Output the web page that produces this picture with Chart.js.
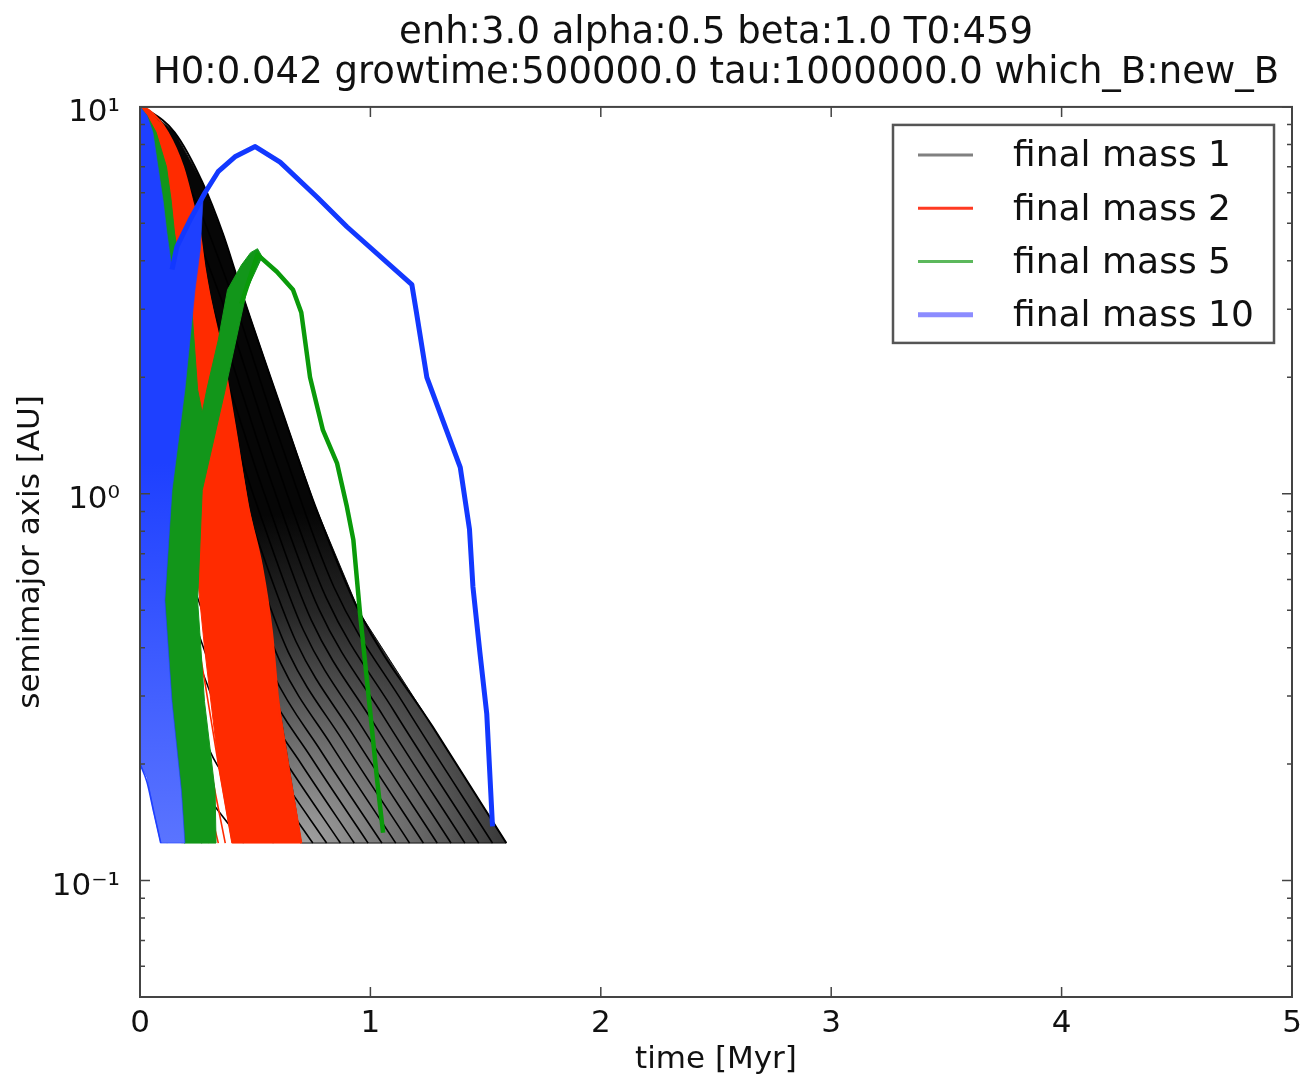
<!DOCTYPE html>
<html lang="en">
<head>
<meta charset="UTF-8">
<title>semimajor axis vs time</title>
<script src="https://cdn.jsdelivr.net/npm/chart.js"></script>
<style>
  html,body{margin:0;padding:0;background:#fff}
  canvas{display:block}
</style>
</head>
<body>
<canvas id="chart" width="1308" height="1079"></canvas>
<script>
// axes
const xTicks = [0, 1, 2, 3, 4, 5];
const yMajorTicks = [0.1, 1, 10];
const yTickLabels = ['10⁻¹', '10⁰', '10¹'];
const yMinorTicks = [0.06, 0.07, 0.08, 0.09, 0.2, 0.3, 0.4, 0.5, 0.6, 0.7, 0.8, 0.9, 2, 3, 4, 5, 6, 7, 8, 9];

const legendLabels = ['final mass 1', 'final mass 2', 'final mass 5', 'final mass 10'];

// tracks: [time Myr, a AU]
const blackOuter = [[0,10],[.035,9.8],[.15,8.6],[.27,6.4],[.36,4.7],[.45,3.2],[.61,1.68],[.76,.93],[.955,.49],[1.27,.25],[1.59,.125]];
const blackInner = [
  [[0,8.4],[.184,6.67],[.383,3.47],[.612,1.35],[.842,.573],[1.148,.284],[1.53,.125]],
  [[0,7.0],[.176,5.62],[.368,3.01],[.588,1.22],[.809,.537],[1.103,.274],[1.47,.125]],
  [[0,5.9],[.169,4.75],[.353,2.62],[.564,1.10],[.776,.504],[1.058,.265],[1.41,.125]],
  [[0,4.9],[.162,4.02],[.338,2.28],[.54,1.0],[.743,.472],[1.013,.256],[1.35,.125]],
  [[0,4.1],[.155,3.40],[.323,1.97],[.516,.904],[.71,.443],[.968,.247],[1.29,.125]],
  [[0,3.44],[.148,2.87],[.308,1.72],[.492,.817],[.677,.415],[.923,.239],[1.23,.125]],
  [[0,2.88],[.14,2.43],[.293,1.49],[.468,.738],[.644,.389],[.878,.231],[1.17,.125]],
  [[0,2.41],[.133,2.05],[.278,1.29],[.444,.667],[.611,.365],[.833,.223],[1.11,.125]],
  [[0,2.02],[.126,1.73],[.263,1.12],[.42,.604],[.578,.342],[.788,.215],[1.05,.125]],
  [[0,1.69],[.119,1.47],[.248,.98],[.396,.546],[.545,.321],[.743,.208],[.99,.125]],
  [[0,1.42],[.112,1.24],[.233,.851],[.372,.494],[.512,.301],[.698,.201],[.93,.125]],
  [[0,1.18],[.104,1.04],[.218,.738],[.348,.446],[.479,.282],[.653,.194],[.87,.125]],
  [[0,.99],[.097,.885],[.203,.641],[.324,.404],[.446,.264],[.608,.187],[.81,.125]],
  [[0,.83],[.09,.748],[.188,.557],[.30,.365],[.413,.248],[.563,.181],[.75,.125]],
  [[0,.71],[.084,.649],[.175,.495],[.28,.335],[.385,.235],[.525,.176],[.70,.125]],
  [[0,.5],[.07,.463],[.145,.374],[.232,.274],[.319,.207],[.435,.164],[.58,.125]],
  [[0,.34],[.054,.322],[.113,.276],[.18,.22],[.248,.18],[.338,.152],[.45,.125]],
  [[0,.2],[.06,.195],[.12,.179],[.2,.15],[.27,.125]]
];

const redOuter = [[0,10],[.04,9.8],[.12,8.6],[.187,7.0],[.226,5.75],[.26,4.72],[.28,3.86],[.30,3.3],[.36,2.26],[.41,1.52],[.47,.925],[.53,.647],[.573,.438],[.60,.294],[.70,.125]];
const redEdge = [[.40,.125],[.34,.2],[.28,.4],[.23,.8],[.18,1.8],[.12,4],[.05,8.5]];
const redInner = [
  [[0,1.2],[.1,1.0],[.2,.6],[.28,.33],[.34,.2],[.40,.125]],
  [[0,.9],[.09,.78],[.18,.48],[.26,.28],[.31,.19],[.37,.125]],
  [[0,.6],[.08,.53],[.16,.36],[.23,.23],[.34,.125]],
  [[0,.4],[.07,.36],[.14,.26],[.21,.18],[.3,.125]],
  [[0,.2],[.05,.19],[.1,.165],[.15,.14],[.185,.125]]
];

const greenBand = [[0,10],[.03,9.5],[.07,8.6],[.115,7.0],[.135,5.75],[.15,4.72],[.17,4.0],[.2,3.5],[.225,3.0],[.25,1.86],[.27,1.62],[.29,1.86],[.34,2.5],[.38,3.37],[.44,3.9],[.48,4.2],[.51,4.3],[.53,4.1],[.464,3.37],[.37,1.86],[.27,1.02],[.25,.53],[.28,.29],[.326,.17],[.33,.125],[.19,.125],[.12,.3],[.08,.6],[.05,3]];
const greenTrack = [[.44,3.1],[.51,4.15],[.594,3.75],[.664,3.37],[.70,2.94],[.738,2.0],[.794,1.46],[.855,1.2],[.898,.925],[.926,.76],[.955,.49],[.985,.33],[1.03,.18],[1.055,.133]];
const greenArc = [[0,.2],[.04,.185],[.08,.155],[.12,.125]];

const blueArea = [[0,10],[.03,9.5],[.056,8.6],[.078,7.0],[.10,5.75],[.117,4.72],[.139,3.8],[.16,4.35],[.217,5.1],[.275,6.0],[.262,4.3],[.239,3.37],[.195,1.86],[.139,1.02],[.108,.53],[.139,.29],[.18,.17],[.195,.125],[.09,.125],[.06,.15],[.03,.185],[0,.2]];
const blueTrack = [[.139,3.8],[.16,4.35],[.217,5.1],[.282,6.0],[.339,6.8],[.412,7.43],[.5,7.9],[.608,7.2],[.768,5.85],[.898,4.9],[1.18,3.47],[1.2,2.94],[1.245,2.0],[1.33,1.46],[1.39,1.17],[1.43,.81],[1.445,.575],[1.475,.39],[1.505,.27],[1.53,.138]];
const blueArc = [[0,.2],[.03,.18],[.06,.15],[.09,.125]];

// styles
const BLACK = '#000', RED = '#ff2b00', GREEN = '#12961a', BLUE = '#1e40ff';
const legendColors = ['#808080', '#ff3a22', '#5cb85c', '#8c8cff'];
const legendWidths = [3, 3, 3, 5];

Chart.defaults.font.family = "'DejaVu Sans', sans-serif";
Chart.defaults.color = '#111';

const pts = p => p.map(([x, y]) => ({x, y}));
const line = (p, color, width, order) => ({
  data: pts(p), borderColor: color, borderWidth: width, pointRadius: 0,
  fill: false, cubicInterpolationMode: 'monotone', order
});
const track = (p, color, width, order) => ({
  data: pts(p), borderColor: color, borderWidth: width, pointRadius: 0,
  fill: false, tension: 0, borderJoinStyle: 'round', order
});
const area = (p, color, order) => ({
  data: pts(p), borderColor: color, borderWidth: 1, backgroundColor: color,
  pointRadius: 0, fill: 'shape', tension: 0, order
});

// the fan of thin black tracks reads light near its lower left corner, solid elsewhere
function fanShade(ctx) {
  const {chart} = ctx;
  if (!chart.chartArea) return '#222';
  const {x, y} = chart.scales;
  const cx = x.getPixelForValue(0.72), cy = y.getPixelForValue(0.125);
  const g = chart.ctx.createRadialGradient(cx, cy, 0, cx, cy, 330);
  g.addColorStop(0, '#a0a0a0');
  g.addColorStop(0.35, '#666');
  g.addColorStop(0.7, '#262626');
  g.addColorStop(1, '#060606');
  return g;
}
function blueShade(ctx) {
  const {chart} = ctx;
  if (!chart.chartArea) return BLUE;
  const y = chart.scales.y;
  const g = chart.ctx.createLinearGradient(0, y.getPixelForValue(1.2), 0, y.getPixelForValue(0.125));
  g.addColorStop(0, BLUE);
  g.addColorStop(1, '#5a74ff');
  return g;
}

const datasets = [];
const blackArea = area(blackOuter.concat(redOuter.slice().reverse()), '#222', 90);
blackArea.backgroundColor = fanShade;
blackArea.borderColor = '#111';
datasets.push(blackArea);
blackInner.forEach(c => datasets.push(line(c, BLACK, 1.6, 80)));
datasets.push(line(blackOuter, BLACK, 2, 80));

datasets.push(area(redOuter.concat(redEdge), RED, 70));
redInner.forEach(c => datasets.push(line(c, RED, 1.6, 60)));
datasets.push(line(redOuter, RED, 2, 60));

datasets.push(area(greenBand, GREEN, 50));
datasets.push(line(greenArc, GREEN, 1.6, 45));
datasets.push(track(greenTrack, '#0a9a0a', 4.5, 40));

const blueFill = area(blueArea, BLUE, 30);
blueFill.backgroundColor = blueShade;
blueFill.borderColor = 'rgba(30,64,255,0.6)';
datasets.push(blueFill);
datasets.push(line(blueArc, BLUE, 1.6, 25));
datasets.push(track(blueTrack, '#1238ff', 5, 10));

const frame = {
  id: 'frame',
  afterDatasetsDraw(chart) {
    const {ctx, chartArea: a, scales: {x, y}} = chart;
    ctx.save();
    ctx.strokeStyle = '#444';
    ctx.lineWidth = 1.5;
    ctx.beginPath();
    xTicks.forEach(v => {
      const px = x.getPixelForValue(v);
      ctx.moveTo(px, a.bottom); ctx.lineTo(px, a.bottom - 10);
      ctx.moveTo(px, a.top); ctx.lineTo(px, a.top + 10);
    });
    yMajorTicks.forEach(v => {
      const py = y.getPixelForValue(v);
      ctx.moveTo(a.left, py); ctx.lineTo(a.left + 10, py);
      ctx.moveTo(a.right, py); ctx.lineTo(a.right - 10, py);
    });
    yMinorTicks.forEach(v => {
      const py = y.getPixelForValue(v);
      ctx.moveTo(a.left, py); ctx.lineTo(a.left + 5, py);
      ctx.moveTo(a.right, py); ctx.lineTo(a.right - 5, py);
    });
    ctx.stroke();
    ctx.lineWidth = 2;
    ctx.strokeRect(a.left, a.top, a.right - a.left, a.bottom - a.top);
    ctx.restore();
  },
  afterDraw(chart) {
    const {ctx, chartArea: a} = chart;
    const bx = a.right - 399, by = a.top + 18, bw = 381, bh = 218;
    ctx.save();
    ctx.fillStyle = '#fff';
    ctx.fillRect(bx, by, bw, bh);
    ctx.strokeStyle = '#555';
    ctx.lineWidth = 2.5;
    ctx.strokeRect(bx, by, bw, bh);
    ctx.font = "36px 'DejaVu Sans'";
    ctx.textBaseline = 'middle';
    legendLabels.forEach((t, i) => {
      const yy = by + 30 + i * 53.3;
      ctx.strokeStyle = legendColors[i];
      ctx.lineWidth = legendWidths[i];
      ctx.beginPath(); ctx.moveTo(bx + 25, yy); ctx.lineTo(bx + 80, yy); ctx.stroke();
      ctx.fillStyle = '#111';
      ctx.fillText(t, bx + 120, yy + 2);
    });
    ctx.restore();
  }
};

new Chart(document.getElementById('chart'), {
  type: 'line',
  data: { datasets },
  options: {
    responsive: false,
    animation: false,
    events: [],
    layout: { padding: { right: 16 } },
    plugins: {
      legend: { display: false },
      tooltip: { enabled: false },
      title: {
        display: true,
        fullSize: false,
        text: ['enh:3.0 alpha:0.5 beta:1.0 T0:459', 'H0:0.042 growtime:500000.0 tau:1000000.0 which_B:new_B'],
        font: { size: 37, weight: 'normal', lineHeight: 1.08 },
        color: '#111',
        padding: { top: 13, bottom: 14 }
      }
    },
    scales: {
      x: {
        type: 'linear', min: 0, max: 5,
        afterBuildTicks: s => { s.ticks = xTicks.map(v => ({ value: v })); },
        afterFit: s => { s.height = 82; s.paddingLeft = 0; s.paddingRight = 0; },
        ticks: { callback: v => String(v), font: { size: 31 }, padding: 8, maxRotation: 0 },
        grid: { display: false, drawTicks: false },
        border: { display: false },
        title: { display: true, text: 'time [Myr]', font: { size: 31 }, padding: { top: 0, bottom: 0 } }
      },
      y: {
        type: 'logarithmic', min: 0.05, max: 10,
        afterBuildTicks: s => { s.ticks = yMajorTicks.map(v => ({ value: v })); },
        afterFit: s => { s.width = 140; s.paddingTop = 0; s.paddingBottom = 0; },
        ticks: { callback: v => yTickLabels[yMajorTicks.indexOf(v)], font: { size: 31 }, padding: 20, labelOffset: 6 },
        grid: { display: false, drawTicks: false },
        border: { display: false },
        title: { display: true, text: 'semimajor axis [AU]', font: { size: 31 }, padding: { top: 12, bottom: 0 } }
      }
    }
  },
  plugins: [frame]
});
</script>
</body>
</html>
